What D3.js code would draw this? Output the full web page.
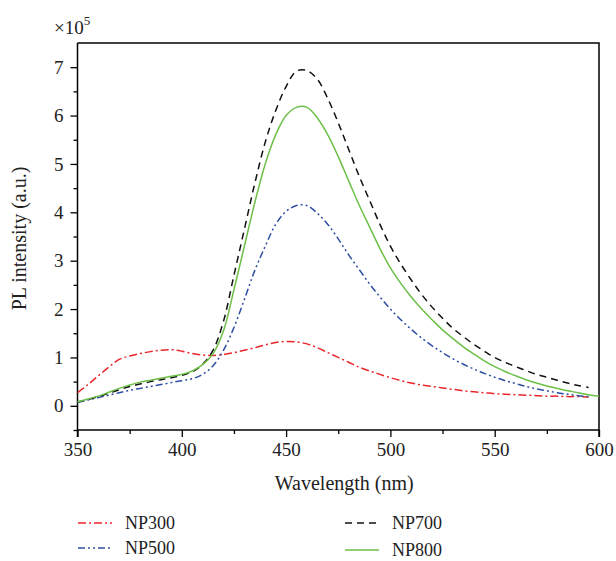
<!DOCTYPE html>
<html><head><meta charset="utf-8">
<script src="https://cdn.jsdelivr.net/npm/d3@7"></script>
<style>body{margin:0;background:#fff}svg{display:block}</style>
</head><body>
<svg id="c" width="616" height="561"></svg>
<script>
const wavelengths = [350,355,360,365,370,375,380,385,390,395,400,405,410,415,420,425,430,435,440,445,450,455,460,465,470,475,480,485,490,495,500,505,510,515,520,525,530,535,540,545,550,555,560,565,570,575,580,585,590,595,600];
const np300 = [0.27,0.44,0.62,0.8,0.96,1.03,1.08,1.12,1.15,1.16,1.13,1.08,1.05,1.04,1.06,1.1,1.15,1.2,1.26,1.31,1.33,1.32,1.28,1.2,1.1,1.0,0.9,0.8,0.72,0.65,0.58,0.52,0.47,0.43,0.4,0.37,0.34,0.31,0.29,0.27,0.25,0.24,0.23,0.22,0.21,0.2,0.2,0.19,0.19,0.18,null];
const np500 = [0.07,0.12,0.17,0.22,0.27,0.32,0.36,0.4,0.44,0.48,0.52,0.56,0.65,0.83,1.15,1.62,2.2,2.8,3.3,3.75,4.02,4.14,4.14,3.98,3.75,3.45,3.12,2.82,2.52,2.25,2.0,1.78,1.58,1.4,1.24,1.1,0.97,0.86,0.76,0.67,0.59,0.52,0.46,0.4,0.35,0.31,0.27,0.24,0.21,0.19,null];
const np700 = [0.08,0.13,0.19,0.26,0.33,0.4,0.45,0.5,0.54,0.58,0.63,0.7,0.86,1.15,1.75,2.7,3.65,4.6,5.45,6.1,6.6,6.92,6.93,6.75,6.35,5.85,5.3,4.75,4.25,3.75,3.3,2.93,2.6,2.3,2.04,1.81,1.6,1.43,1.27,1.13,1.0,0.9,0.81,0.73,0.65,0.59,0.53,0.47,0.42,0.38,null];
const np800 = [0.08,0.14,0.2,0.28,0.36,0.43,0.49,0.53,0.57,0.61,0.65,0.72,0.85,1.08,1.55,2.4,3.3,4.2,5.0,5.6,6.0,6.17,6.17,5.95,5.6,5.15,4.65,4.15,3.7,3.25,2.85,2.53,2.25,2.0,1.78,1.57,1.39,1.22,1.07,0.93,0.81,0.71,0.62,0.54,0.47,0.41,0.36,0.31,0.27,0.23,0.2];
const seriesNames = ["NP300","NP500","NP700","NP800"];
const xTicks = [350,400,450,500,550,600];
const yTicks = [0,1,2,3,4,5,6,7];

const series = [
  {name:"NP300", values:np300, color:"#e8262a", dash:"8,3,2,3"},
  {name:"NP500", values:np500, color:"#2e4fa3", dash:"7,3,2,3,2,3"},
  {name:"NP700", values:np700, color:"#111111", dash:"7,5"},
  {name:"NP800", values:np800, color:"#6cbf47", dash:null}
];

const svg = d3.select("#c");
const font = "'Liberation Serif', 'DejaVu Serif', serif";
const L = 77.5, R = 599, T = 43, B = 430;
const x = d3.scaleLinear().domain([350,600]).range([L,R]);
const y = d3.scaleLinear().domain([-0.5,7.5]).range([B,T]);

svg.append("path").attr("d",`M${L},${T}H${R}V${B}`).attr("fill","none").attr("stroke","#000").attr("stroke-width",1.5);

const xAxis = d3.axisBottom(x).tickValues(xTicks).tickSize(7).tickPadding(6).tickFormat(d3.format("d"));
const gx = svg.append("g").attr("transform",`translate(0,${B})`).call(xAxis);
const xMinor = d3.axisBottom(x).tickValues([375,425,475,525,575]).tickSize(4).tickFormat("");
svg.append("g").attr("transform",`translate(0,${B})`).call(xMinor).select(".domain").remove();

const yAxis = d3.axisLeft(y).tickValues(yTicks).tickSize(7).tickPadding(7);
const gy = svg.append("g").attr("transform",`translate(${L},0)`).call(yAxis);
const yMinor = d3.axisLeft(y).tickValues([-0.5,0.5,1.5,2.5,3.5,4.5,5.5,6.5]).tickSize(4).tickFormat("");
svg.append("g").attr("transform",`translate(${L},0)`).call(yMinor).select(".domain").remove();

svg.selectAll(".domain").attr("stroke-width",1.5);
svg.selectAll(".tick line").attr("stroke-width",1.3);
svg.selectAll(".tick text").attr("font-family",font).attr("font-size",19).attr("fill","#222");
gx.select(".domain").attr("d",`M${L},0H${R}`);
gy.select(".domain").attr("d",`M0,${T}V${B+7}`);
svg.append("line").attr("x1",R).attr("x2",R).attr("y1",B).attr("y2",B+7).attr("stroke","#000").attr("stroke-width",1.5);

const line = d3.line()
  .defined(d=>d[1]!==null)
  .x(d=>x(d[0])).y(d=>y(d[1]))
  .curve(d3.curveCatmullRom.alpha(0.5));

const plot = svg.append("g");
series.forEach(s=>{
  const pts = wavelengths.map((w,i)=>[w,s.values[i]]);
  plot.append("path").attr("d",line(pts)).attr("fill","none")
    .attr("stroke",s.color).attr("stroke-width",1.5)
    .attr("stroke-dasharray",s.dash);
});

const ex = svg.append("text").attr("x",54).attr("y",34).attr("font-family",font).attr("font-size",19).attr("fill","#222");
ex.append("tspan").text("×10");
ex.append("tspan").attr("dy",-9).attr("font-size",13).text("5");

svg.append("text").attr("transform",`translate(26,${(T+B)/2+2}) rotate(-90)`)
  .attr("text-anchor","middle").attr("font-family",font).attr("font-size",20).attr("fill","#222")
  .text("PL intensity (a.u.)");
svg.append("text").attr("x",(L+R)/2+6).attr("y",490).attr("text-anchor","middle")
  .attr("font-family",font).attr("font-size",20).attr("fill","#222").text("Wavelength (nm)");

const legPos = [[78,523],[78,548],[345,523],[345,550]];
series.forEach((s,i)=>{
  const [lx,ly] = legPos[i];
  svg.append("line").attr("x1",lx).attr("x2",lx+34).attr("y1",ly).attr("y2",ly)
    .attr("stroke",s.color).attr("stroke-width",1.5).attr("stroke-dasharray",s.dash);
  svg.append("text").attr("x",lx+47).attr("y",ly+6).attr("font-family",font).attr("font-size",18).attr("fill","#222").text(seriesNames[i]);
});
</script>
</body></html>
